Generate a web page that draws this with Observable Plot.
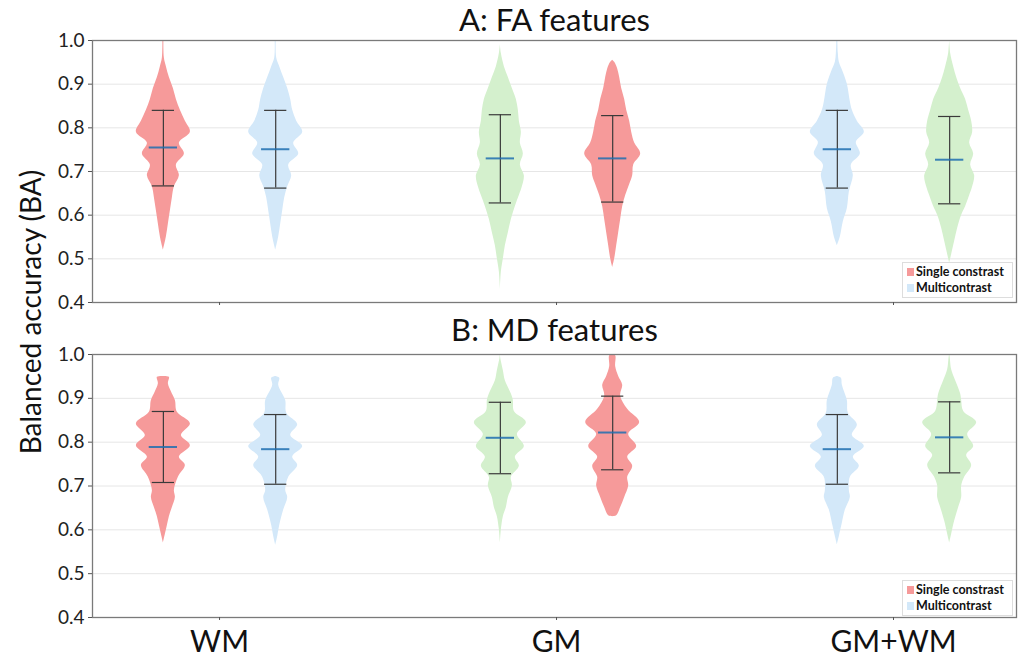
<!DOCTYPE html>
<html><head><meta charset="utf-8">
<script src="https://cdn.jsdelivr.net/npm/d3@7"></script>
<script src="https://cdn.jsdelivr.net/npm/@observablehq/plot@0.6"></script>
<style>
body{margin:0;background:#fff;font-family:Lato,"Open Sans",sans-serif;}
#wrap{position:relative;width:1018px;height:660px;overflow:hidden;}
#wrap svg{display:block;}
.ytitle{position:absolute;left:30px;top:312px;transform:translate(-50%,-50%) rotate(-90deg);font-size:28px;white-space:nowrap;color:#111;}
.legend{position:absolute;left:902px;width:109px;height:33px;border:1px solid #ddd;background:#fff;font-weight:bold;font-size:12.5px;line-height:16px;color:#111;padding-top:1px;box-sizing:content-box;}
.legend div{white-space:nowrap;padding-left:4px;}
.legend span{display:inline-block;width:7px;height:8px;margin-right:2px;vertical-align:0px;}
</style></head>
<body>
<div id="wrap">
  <div id="chartA"></div>
  <div id="chartB"></div>
  <div class="ytitle">Balanced accuracy (BA)</div>
</div>
<script>
// ---- categories & slots ----
const groups = ["WM", "GM", "GM+WM"];
const slotGroup = ["WM", "WM", "GM", "GM", "GM+WM", "GM+WM"];
const slotSide = [-1, 1, -1, 1, -1, 1];
const slotKind = ["single", "multi", "other", "single", "multi", "other"];
const legendLabels = ["Single constrast", "Multicontrast"];
const yTicks = [0.4, 0.5, 0.6, 0.7, 0.8, 0.9, 1.0];

// ---- summary values (mean, lower/upper whisker) ----
const faMean = [0.755, 0.751, 0.730, 0.730, 0.751, 0.727];
const faLow  = [0.667, 0.662, 0.628, 0.630, 0.662, 0.626];
const faHigh = [0.840, 0.840, 0.830, 0.828, 0.840, 0.826];
const mdMean = [0.789, 0.784, 0.810, 0.822, 0.784, 0.811];
const mdLow  = [0.708, 0.704, 0.728, 0.737, 0.704, 0.730];
const mdHigh = [0.870, 0.863, 0.891, 0.905, 0.863, 0.892];

// ---- density profiles [value, relative density] ----
const faWMSingle = [[0.52,0],[0.55,3],[0.58,5],[0.61,7],[0.64,9],[0.665,11],[0.69,16],[0.715,13],[0.74,21],[0.765,16],[0.79,27],[0.815,22],[0.84,17],[0.865,13],[0.89,10],[0.915,6],[0.94,3],[0.96,1],[1.0,0.5]];
const faWMMulti = [[0.52,0],[0.55,3],[0.58,5],[0.61,7],[0.64,9],[0.665,12],[0.69,16],[0.715,13],[0.74,23],[0.765,18],[0.79,27],[0.815,21],[0.84,17],[0.865,15],[0.89,12],[0.915,8],[0.94,4],[0.96,1],[1.0,0.5]];
const faGMOther = [[0.43,0],[0.47,1],[0.5,3],[0.53,5],[0.56,8],[0.59,11],[0.62,15],[0.645,19],[0.665,22],[0.69,24],[0.715,20],[0.74,23],[0.765,20],[0.79,21],[0.815,19],[0.84,18],[0.865,16],[0.89,12],[0.915,8],[0.94,4],[0.97,1],[0.99,0]];
const faGMSingle = [[0.48,0],[0.5,2],[0.53,4],[0.56,6],[0.59,8],[0.62,10],[0.645,13],[0.67,17],[0.69,20],[0.715,21],[0.74,28],[0.765,22],[0.79,19],[0.815,17],[0.84,14],[0.865,12],[0.89,9],[0.915,7],[0.935,5],[0.95,2],[0.955,0]];
const faGWMulti = [[0.53,0],[0.55,3],[0.585,6],[0.615,10],[0.653,12],[0.69,16],[0.715,14],[0.74,23],[0.767,19],[0.79,27],[0.815,20],[0.84,15],[0.86,13],[0.9,10],[0.927,6],[0.95,2],[0.97,1],[1.0,0.5]];
const faGWOther = [[0.49,0],[0.51,2],[0.54,5],[0.57,8],[0.6,12],[0.62,16],[0.645,20],[0.665,23],[0.69,25],[0.715,21],[0.74,24],[0.765,20],[0.79,23],[0.815,22],[0.84,19],[0.865,16],[0.89,11],[0.915,7],[0.94,4],[0.97,1],[1.0,0]];

const mdWMSingle = [[0.57,0],[0.59,2],[0.61,4],[0.63,6],[0.651,9],[0.674,12],[0.69,11],[0.72,15],[0.747,22],[0.766,16],[0.792,27],[0.815,18],[0.842,27],[0.868,14],[0.895,12],[0.915,8],[0.933,5],[0.948,6],[0.95,0]];
const mdWMMulti = [[0.565,0],[0.585,2],[0.61,4],[0.645,8],[0.674,12],[0.69,10],[0.72,13],[0.747,22],[0.766,17],[0.79,27],[0.815,15],[0.84,22],[0.866,11],[0.895,10],[0.93,3],[0.946,4],[0.95,0]];
const mdGMOther = [[0.57,0],[0.6,1],[0.63,3],[0.651,6],[0.674,8],[0.7,12],[0.72,11],[0.745,19],[0.766,15],[0.79,24],[0.818,17],[0.845,26],[0.87,14],[0.895,13],[0.91,11],[0.94,5],[0.963,3],[0.99,0.5],[1.0,0]];
const mdGMSingle = [[0.63,0],[0.632,4],[0.651,8],[0.674,12],[0.7,16],[0.72,15],[0.745,20],[0.766,15],[0.79,24],[0.818,16],[0.845,27],[0.875,15],[0.905,8],[0.93,10],[0.95,6],[0.972,3],[0.997,3],[1.0,0]];
const mdGWMulti = [[0.566,0],[0.585,2],[0.615,5],[0.645,8],[0.674,13],[0.69,12],[0.72,13],[0.745,22],[0.766,16],[0.79,27],[0.815,15],[0.84,20],[0.866,11],[0.895,10],[0.93,5],[0.946,4],[0.95,0]];
const mdGWOther = [[0.57,0],[0.59,2],[0.62,5],[0.651,9],[0.674,12],[0.7,12],[0.72,15],[0.747,22],[0.77,17],[0.79,24],[0.818,18],[0.845,27],[0.87,14],[0.895,12],[0.91,11],[0.94,6],[0.965,2],[0.994,0.5],[1.0,0]];

const faProfiles = [faWMSingle, faWMMulti, faGMOther, faGMSingle, faGWMulti, faGWOther];
const mdProfiles = [mdWMSingle, mdWMMulti, mdGMOther, mdGMSingle, mdGWMulti, mdGWOther];

// ---- styling ----
const kindColor = {single: "#f69a9a", multi: "#d3e8f9", other: "#d4f0cd"};
const densityToX = 1 / 337;   // relative density -> x units
const slotOffset = 1 / 6;
const xDomain = [0.623, 3.365];

function slotCenter(i) { return groups.indexOf(slotGroup[i]) + 1 + slotSide[i] * slotOffset; }

function buildChart(title, profiles, mean, low, high, showLabels, height, mTop, mBottom, titleY) {
  const marks = [Plot.gridY(yTicks, {stroke: "#e6e6e6", strokeOpacity: 1})];
  profiles.forEach((prof, i) => {
    const c = slotCenter(i);
    const rows = prof.map(([v, w]) => ({v, x1: c - w * densityToX, x2: c + w * densityToX}));
    marks.push(Plot.areaX(rows, {y: "v", x1: "x1", x2: "x2", fill: kindColor[slotKind[i]], curve: "catmull-rom"}));
  });
  const stats = mean.map((m, i) => ({c: slotCenter(i), m, lo: low[i], hi: high[i]}));
  const capHalf = 0.033, meanHalf = 0.042;
  marks.push(
    Plot.ruleX(stats, {x: "c", y1: "lo", y2: "hi", stroke: "#3a3a3a", strokeWidth: 1.2}),
    Plot.ruleY(stats, {y: "hi", x1: d => d.c - capHalf, x2: d => d.c + capHalf, stroke: "#3a3a3a", strokeWidth: 1.2}),
    Plot.ruleY(stats, {y: "lo", x1: d => d.c - capHalf, x2: d => d.c + capHalf, stroke: "#3a3a3a", strokeWidth: 1.2}),
    Plot.ruleY(stats, {y: "m", x1: d => d.c - meanHalf, x2: d => d.c + meanHalf, stroke: "#1f6fb0", strokeOpacity: 0.85, strokeWidth: 2}),
    Plot.frame({stroke: "#7a7a7a", strokeWidth: 1.3}),
    Plot.axisY(yTicks, {tickFormat: d3.format(".1f"), tickSize: 4, tickPadding: 4, fontSize: 19, label: null, stroke: "#555", color: "#222"}),
    Plot.axisX([1, 2, 3], {tickFormat: showLabels ? (d => groups[d - 1]) : (() => ""), tickSize: 3, tickPadding: 10, fontSize: 30, label: null, stroke: "#555", color: "#111"}),
    Plot.text([title], {frameAnchor: "top", lineAnchor: "middle", dy: titleY - mTop, fontSize: 31, fill: "#111"})
  );
  return Plot.plot({
    width: 1018, height,
    marginLeft: 92, marginRight: 2, marginTop: mTop, marginBottom: mBottom,
    x: {domain: xDomain, axis: null},
    y: {domain: [0.4, 1.0], axis: null},
    style: {fontFamily: "Lato, 'Open Sans', sans-serif", background: "transparent", overflow: "visible"},
    marks
  });
}

document.getElementById("chartA").append(buildChart("A: FA features", faProfiles, faMean, faLow, faHigh, false, 312, 40, 10, 21));
document.getElementById("chartB").append(buildChart("B: MD features", mdProfiles, mdMean, mdLow, mdHigh, true, 348, 42, 43, 19));

// legends (one per panel)
const wrap = document.getElementById("wrap");
[262, 580].forEach(top => {
  const lg = document.createElement("div");
  lg.className = "legend";
  lg.style.top = top + "px";
  lg.innerHTML = legendLabels.map((t, k) => `<div><span style="background:${k === 0 ? kindColor.single : kindColor.multi}"></span>${t}</div>`).join("");
  wrap.append(lg);
});
</script>
</body></html>
